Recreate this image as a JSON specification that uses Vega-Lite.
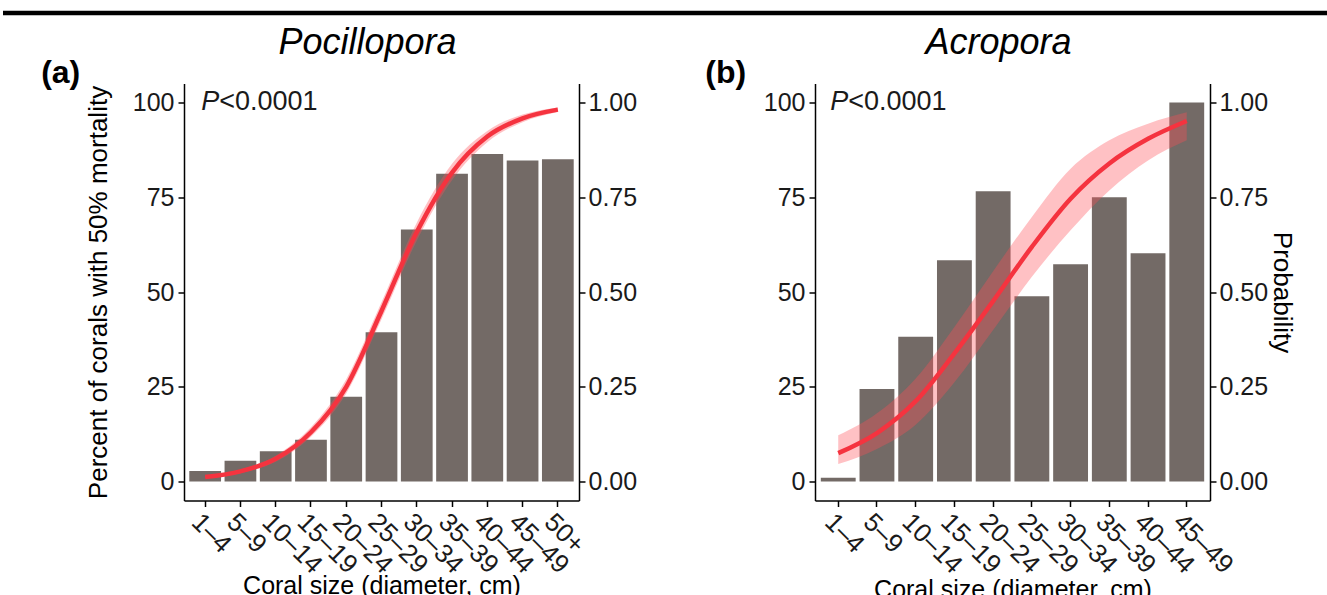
{
  "$schema": "https://vega.github.io/schema/vega-lite/v6.json",
  "background": "white",
  "padding": {"left": 0, "top": 10, "right": 0, "bottom": 0},
  "config": {
    "font": "Liberation Sans",
    "view": {"stroke": null},
    "axis": {"grid": false, "domainColor": "black", "domainWidth": 1.5, "tickColor": "black", "tickWidth": 1.5, "tickSize": 6, "labelColor": "#1a1a1a", "titleColor": "black", "labelFontSize": 25, "titleFontSize": 26, "titleFontWeight": "normal", "labelFont": "Liberation Sans", "titleFont": "Liberation Sans"},
    "title": {"font": "Liberation Sans", "fontSize": 36, "fontStyle": "italic", "fontWeight": "normal", "color": "black", "anchor": "middle", "baseline": "alphabetic", "offset": -5}
  },
  "bounds": "flush",
  "spacing": 2.5,
  "vconcat": [
    {
      "width": 1146,
      "height": 68,
      "data": {"values": [{}]},
      "mark": {"type": "rule", "color": "black", "strokeWidth": 4.5},
      "encoding": {
        "x": {"datum": -0.15794, "type": "quantitative", "scale": {"domain": [0, 1], "nice": false, "zero": false}, "axis": null},
        "x2": {"datum": 1},
        "y": {"datum": 1, "type": "quantitative", "scale": {"domain": [0, 1]}, "axis": null}
      }
    },
    {
      "spacing": 68,
      "hconcat": [
        {
          "width": 395,
          "height": 417,
          "title": {"text": "Pocillopora", "dx": -14},
          "resolve": {"scale": {"y": "independent"}},
          "layer": [
            {
              "layer": [
                {
                  "data": {"values": [
                    {"size": "1–4", "pct": 2.8},
                    {"size": "5–9", "pct": 5.5},
                    {"size": "10–14", "pct": 8.0},
                    {"size": "15–19", "pct": 11.0},
                    {"size": "20–24", "pct": 22.4},
                    {"size": "25–29", "pct": 39.4},
                    {"size": "30–34", "pct": 66.5},
                    {"size": "35–39", "pct": 81.2},
                    {"size": "40–44", "pct": 86.4},
                    {"size": "45–49", "pct": 84.7},
                    {"size": "50+", "pct": 85.0}
                  ]},
                  "mark": {"type": "bar", "color": "#736a66"},
                  "encoding": {
                    "x": {"field": "size", "type": "nominal", "sort": null,
                      "scale": {"domain": ["1–4","5–9","10–14","15–19","20–24","25–29","30–34","35–39","40–44","45–49","50+"], "paddingInner": 0.1, "paddingOuter": 0.15},
                      "axis": {"title": "Coral size (diameter, cm)", "labelAngle": 45, "labelAlign": "left", "labelBaseline": "top", "labelPadding": 2, "labelFontSize": 26, "titleFontSize": 25, "titlePadding": -5}},
                    "y": {"field": "pct", "type": "quantitative",
                      "scale": {"domain": [-5, 105], "nice": false, "zero": false},
                      "axis": {"title": "Percent of corals with 50% mortality", "values": [0, 25, 50, 75, 100], "titlePadding": 21, "labelPadding": 4}},
                    "y2": {"datum": 0}
                  }
                },
                {
                  "data": {"values": [{"tag": "(a)", "p": "P", "rest": "<0.0001"}]},
                  "mark": {"type": "text", "fontSize": 32, "fontWeight": "bold", "align": "left", "baseline": "middle", "dx": -164, "color": "black"},
                  "encoding": {"x": {"datum": "1–4"}, "y": {"datum": 107.8}, "text": {"field": "tag"}}
                },
                {
                  "data": {"values": [{"tag": "(a)", "p": "P", "rest": "<0.0001"}]},
                  "mark": {"type": "text", "fontSize": 27, "fontStyle": "italic", "align": "left", "baseline": "middle", "dx": -4, "color": "#1a1a1a"},
                  "encoding": {"x": {"datum": "1–4"}, "y": {"datum": 100}, "text": {"field": "p"}}
                },
                {
                  "data": {"values": [{"tag": "(a)", "p": "P", "rest": "<0.0001"}]},
                  "mark": {"type": "text", "fontSize": 27, "align": "left", "baseline": "middle", "dx": 14, "color": "#1a1a1a"},
                  "encoding": {"x": {"datum": "1–4"}, "y": {"datum": 100}, "text": {"field": "rest"}}
                }
              ]
            },
            {
              "data": {"values": [
                {"size": "1–4", "prob": 0.012, "lo": 0.009, "hi": 0.015},
                {"size": "5–9", "prob": 0.027, "lo": 0.022, "hi": 0.032},
                {"size": "10–14", "prob": 0.060, "lo": 0.052, "hi": 0.068},
                {"size": "15–19", "prob": 0.130, "lo": 0.118, "hi": 0.143},
                {"size": "20–24", "prob": 0.250, "lo": 0.232, "hi": 0.270},
                {"size": "25–29", "prob": 0.450, "lo": 0.428, "hi": 0.473},
                {"size": "30–34", "prob": 0.658, "lo": 0.635, "hi": 0.683},
                {"size": "35–39", "prob": 0.815, "lo": 0.795, "hi": 0.838},
                {"size": "40–44", "prob": 0.910, "lo": 0.895, "hi": 0.925},
                {"size": "45–49", "prob": 0.958, "lo": 0.948, "hi": 0.968},
                {"size": "50+", "prob": 0.981, "lo": 0.975, "hi": 0.987}
              ]},
              "encoding": {
                "x": {"field": "size", "type": "nominal", "sort": null,
                  "scale": {"domain": ["1–4","5–9","10–14","15–19","20–24","25–29","30–34","35–39","40–44","45–49","50+"], "paddingInner": 0.1, "paddingOuter": 0.15}}
              },
              "layer": [
                {
                  "mark": {"type": "area", "color": "#ff4d57", "opacity": 0.35, "interpolate": "monotone"},
                  "encoding": {
                    "y": {"field": "lo", "type": "quantitative", "scale": {"domain": [-0.05, 1.05], "nice": false, "zero": false},
                      "axis": {"orient": "right", "title": null, "values": [0, 0.25, 0.5, 0.75, 1], "format": ".2f", "labelPadding": 3}},
                    "y2": {"field": "hi"}
                  }
                },
                {
                  "mark": {"type": "line", "color": "#f5333f", "strokeWidth": 4.5, "interpolate": "monotone"},
                  "encoding": {
                    "y": {"field": "prob", "type": "quantitative"}
                  }
                }
              ]
            }
          ]
        },
        {
          "width": 395,
          "height": 417,
          "title": {"text": "Acropora", "dx": -14},
          "resolve": {"scale": {"y": "independent"}},
          "layer": [
            {
              "layer": [
                {
                  "data": {"values": [
                    {"size": "1–4", "pct": 1.0},
                    {"size": "5–9", "pct": 24.4},
                    {"size": "10–14", "pct": 38.2},
                    {"size": "15–19", "pct": 58.4},
                    {"size": "20–24", "pct": 76.6},
                    {"size": "25–29", "pct": 48.9},
                    {"size": "30–34", "pct": 57.3},
                    {"size": "35–39", "pct": 75.0},
                    {"size": "40–44", "pct": 60.2},
                    {"size": "45–49", "pct": 100.0}
                  ]},
                  "mark": {"type": "bar", "color": "#736a66"},
                  "encoding": {
                    "x": {"field": "size", "type": "nominal", "sort": null,
                      "scale": {"domain": ["1–4","5–9","10–14","15–19","20–24","25–29","30–34","35–39","40–44","45–49"], "paddingInner": 0.1, "paddingOuter": 0.15},
                      "axis": {"title": "Coral size (diameter, cm)", "labelAngle": 45, "labelAlign": "left", "labelBaseline": "top", "labelPadding": 2, "labelFontSize": 26, "titleFontSize": 25, "titlePadding": -1}},
                    "y": {"field": "pct", "type": "quantitative",
                      "scale": {"domain": [-5, 105], "nice": false, "zero": false},
                      "axis": {"title": null, "values": [0, 25, 50, 75, 100], "labelPadding": 4}},
                    "y2": {"datum": 0}
                  }
                },
                {
                  "data": {"values": [{"tag": "(b)", "p": "P", "rest": "<0.0001"}]},
                  "mark": {"type": "text", "fontSize": 32, "fontWeight": "bold", "align": "left", "baseline": "middle", "dx": -133, "color": "black"},
                  "encoding": {"x": {"datum": "1–4"}, "y": {"datum": 107.8}, "text": {"field": "tag"}}
                },
                {
                  "data": {"values": [{"tag": "(b)", "p": "P", "rest": "<0.0001"}]},
                  "mark": {"type": "text", "fontSize": 27, "fontStyle": "italic", "align": "left", "baseline": "middle", "dx": -8, "color": "#1a1a1a"},
                  "encoding": {"x": {"datum": "1–4"}, "y": {"datum": 100}, "text": {"field": "p"}}
                },
                {
                  "data": {"values": [{"tag": "(b)", "p": "P", "rest": "<0.0001"}]},
                  "mark": {"type": "text", "fontSize": 27, "align": "left", "baseline": "middle", "dx": 10, "color": "#1a1a1a"},
                  "encoding": {"x": {"datum": "1–4"}, "y": {"datum": 100}, "text": {"field": "rest"}}
                }
              ]
            },
            {
              "data": {"values": [
                {"size": "1–4", "prob": 0.075, "lo": 0.046, "hi": 0.122},
                {"size": "5–9", "prob": 0.128, "lo": 0.086, "hi": 0.180},
                {"size": "10–14", "prob": 0.212, "lo": 0.150, "hi": 0.272},
                {"size": "15–19", "prob": 0.338, "lo": 0.262, "hi": 0.408},
                {"size": "20–24", "prob": 0.476, "lo": 0.400, "hi": 0.555},
                {"size": "25–29", "prob": 0.619, "lo": 0.540, "hi": 0.698},
                {"size": "30–34", "prob": 0.746, "lo": 0.663, "hi": 0.825},
                {"size": "35–39", "prob": 0.839, "lo": 0.768, "hi": 0.900},
                {"size": "40–44", "prob": 0.904, "lo": 0.847, "hi": 0.944},
                {"size": "45–49", "prob": 0.951, "lo": 0.900, "hi": 0.974}
              ]},
              "encoding": {
                "x": {"field": "size", "type": "nominal", "sort": null,
                  "scale": {"domain": ["1–4","5–9","10–14","15–19","20–24","25–29","30–34","35–39","40–44","45–49"], "paddingInner": 0.1, "paddingOuter": 0.15}}
              },
              "layer": [
                {
                  "mark": {"type": "area", "color": "#ff4d57", "opacity": 0.35, "interpolate": "monotone"},
                  "encoding": {
                    "y": {"field": "lo", "type": "quantitative", "scale": {"domain": [-0.05, 1.05], "nice": false, "zero": false},
                      "axis": {"orient": "right", "title": "Probability", "values": [0, 0.25, 0.5, 0.75, 1], "format": ".2f", "labelPadding": 3, "titlePadding": 1}},
                    "y2": {"field": "hi"}
                  }
                },
                {
                  "mark": {"type": "line", "color": "#f5333f", "strokeWidth": 4.5, "interpolate": "monotone"},
                  "encoding": {
                    "y": {"field": "prob", "type": "quantitative"}
                  }
                }
              ]
            }
          ]
        }
      ]
    }
  ]
}
